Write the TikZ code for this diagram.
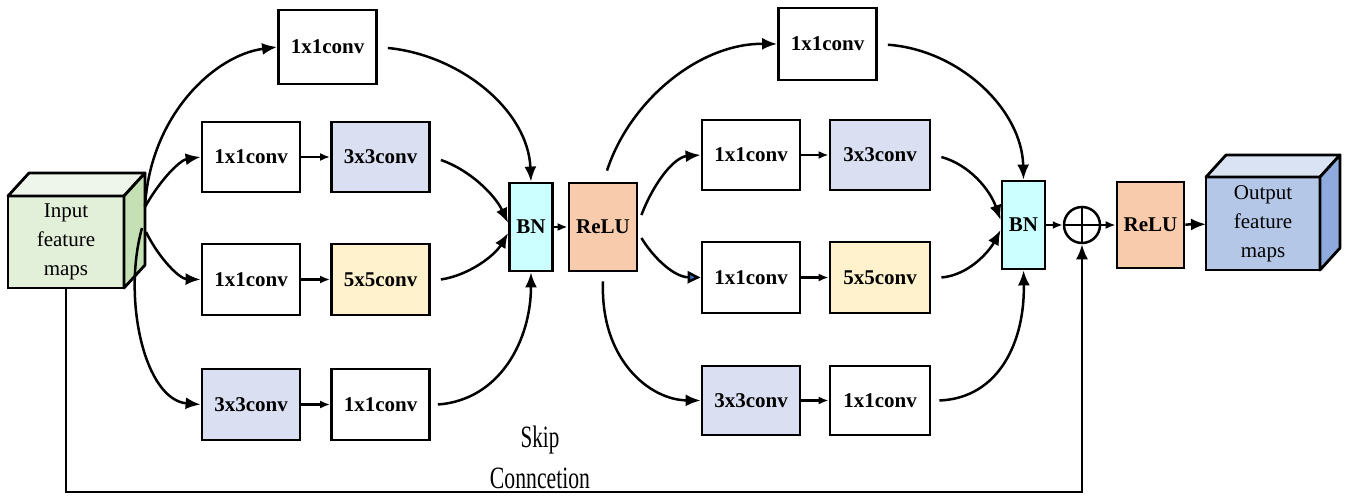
\documentclass[tikz,border=0pt]{standalone}
\usepackage{fontspec}
\setmainfont{Liberation Serif}
\usetikzlibrary{arrows.meta,calc}
\definecolor{cubeF}{HTML}{E2EFD9}
\definecolor{cubeS}{HTML}{C5E0B4}
\definecolor{cubeT}{HTML}{EEF5EA}
\definecolor{outF}{HTML}{B4C7E7}
\definecolor{outS}{HTML}{8FAADC}
\definecolor{outT}{HTML}{DAE3F3}
\definecolor{lav}{HTML}{DAE0F2}
\definecolor{yel}{HTML}{FFF2CC}
\definecolor{bnc}{HTML}{CCFFFF}
\definecolor{reluc}{HTML}{F8CBAD}
\definecolor{tipblue}{HTML}{4472C4}
\tikzset{
  box/.style={draw, line width=2.8pt, minimum width=98pt, minimum height=70pt, inner sep=0pt,
    font=\fontsize{21}{24}\selectfont\bfseries},
  tallbox/.style={draw, line width=2.8pt, minimum width=43pt, minimum height=88pt, inner sep=0pt,
    font=\fontsize{21}{24}\selectfont\bfseries},
  face/.style={draw, line width=2.8pt, inner sep=0pt, outer sep=0pt, align=center,
    font=\fontsize{21}{29}\selectfont},
  arr/.style={line width=2.5pt, -{Latex[length=15pt,width=12pt]}},
  sarr/.style={line width=2.5pt, -{Latex[length=10pt,width=8pt]}},
  barr/.style={line width=2.5pt, -{Triangle[length=13pt,width=12pt,fill=tipblue]}},
  ln/.style={line width=2.5pt},
}
\begin{document}
\begin{tikzpicture}[x=1pt,y=1pt]
\useasboundingbox (0,0) rectangle (1349,-497);
% input cube
\node[face, fill=cubeF, minimum width=116pt, minimum height=92pt] (inp) at (66,-242) {Input\\feature\\maps};
\draw[line width=2.8pt, fill=cubeT, line join=round] (inp.north west) -- ++(21,23) -- ($(inp.north east)+(21,23)$) -- (inp.north east) -- cycle;
\draw[line width=2.8pt, fill=cubeS, line join=round] (inp.north east) -- ++(21,23) -- ($(inp.south east)+(21,23)$) -- (inp.south east) -- cycle;
% output cube
\node[face, fill=outF, minimum width=114pt, minimum height=93pt] (out) at (1263,-223.5) {Output\\feature\\maps};
\draw[line width=2.8pt, fill=outT, line join=round] (out.north west) -- ++(20,22) -- ($(out.north east)+(20,22)$) -- (out.north east) -- cycle;
\draw[line width=2.8pt, fill=outS, line join=round] (out.north east) -- ++(20,22) -- ($(out.south east)+(20,22)$) -- (out.south east) -- cycle;

% left block
\node[box, minimum height=74pt] (top1) at (327.5,-47) {1x1conv};
\node[box] (L21) at (251,-157) {1x1conv};
\node[box, fill=lav] (L22) at (380.5,-157) {3x3conv};
\node[box, minimum height=71pt] (L31) at (251,-279.5) {1x1conv};
\node[box, minimum height=71pt, fill=yel] (L32) at (380.5,-279.5) {5x5conv};
\node[box, minimum height=71pt, fill=lav] (L41) at (251,-404.5) {3x3conv};
\node[box, minimum height=71pt] (L42) at (380.5,-404.5) {1x1conv};
\node[tallbox, fill=bnc] (BN1) at (531,-227) {BN};
\node[tallbox, fill=reluc, minimum width=68pt] (R1) at (603,-227) {ReLU};

% right block
\node[box, minimum height=72pt] (top2) at (827.5,-44) {1x1conv};
\node[box] (R21) at (751,-155) {1x1conv};
\node[box, fill=lav, minimum width=100pt] (R22) at (880,-155) {3x3conv};
\node[box, minimum height=71pt] (R31) at (751,-277.5) {1x1conv};
\node[box, minimum height=71pt, fill=yel, minimum width=100pt] (R32) at (880,-277.5) {5x5conv};
\node[box, minimum height=69pt, fill=lav] (R41) at (751,-400.5) {3x3conv};
\node[box, minimum height=69pt, minimum width=100pt] (R42) at (880,-400.5) {1x1conv};
\node[tallbox, fill=bnc] (BN2) at (1023.5,-225) {BN};
\node[draw, circle, line width=2.5pt, minimum size=36pt, inner sep=0pt] (add) at (1082,-225) {};
\draw[ln] (add.north) -- (add.south) (add.west) -- (add.east);
\node[tallbox, fill=reluc, minimum width=67pt, minimum height=86pt] (R2) at (1150.5,-225) {ReLU};

% skip label
\node (sk1) at (540,-440) {\scalebox{0.68}[1]{\fontsize{31}{31}\selectfont Skip}};
\node (sk2) at (540,-478) {\scalebox{0.7}[1]{\fontsize{31}{31}\selectfont Conncetion}};

% connectors from input cube
\coordinate (s1) at (145,-207);
\coordinate (s2) at (146,-232);
\coordinate (s3) at (142,-228);
\draw[arr] (s1) .. controls (150,-115) and (215,-55) .. (top1.west);
\draw[arr] (s1) .. controls (160,-180) and (180,-160) .. (L21.west);
\draw[arr] (s2) .. controls (160,-260) and (180,-279) .. (L31.west);
\draw[arr] (s3) .. controls (122,-300) and (145,-400) .. (L41.west);

\draw[sarr] (L21) -- (L22);
\draw[sarr] (L31) -- (L32);
\draw[sarr] (L41) -- (L42);

\draw[arr, shorten <=10pt] (top1.east) .. controls (460,-55) and (528,-110) .. (BN1.north);
\draw[arr] ($(L22.east)+(10,-3)$) .. controls (470,-170) and (495,-195) .. ($(BN1.west)+(0,4)$);
\draw[arr] ($(L32.east)+(10,0)$) .. controls (470,-275) and (495,-255) .. ($(BN1.west)+(0,-6)$);
\draw[arr] ($(L42.east)+(7,0)$) .. controls (500,-400) and (531,-340) .. (BN1.south);
\draw[sarr] (BN1) -- (R1);

% from ReLU1
\draw[arr] ($(R1.north)+(4,11)$) .. controls (630,-100) and (700,-43) .. (top2.west);
\draw[arr] ($(R1.east)+(3,12)$) .. controls (655,-180) and (675,-157) .. (R21.west);
\draw[barr] ($(R1.east)+(3,-11)$) .. controls (655,-260) and (675,-277) .. (R31.west);
\draw[arr] ($(R1.south)+(0,-9)$) .. controls (600,-360) and (650,-400) .. (R41.west);

\draw[sarr] (R21) -- (R22);
\draw[sarr] (R31) -- (R32);
\draw[sarr] (R41) -- (R42);

\draw[arr, shorten <=10pt] (top2.east) .. controls (960,-50) and (1022,-110) .. (BN2.north);
\draw[arr] ($(R22.east)+(10,-2)$) .. controls (970,-165) and (990,-190) .. ($(BN2.west)+(0,5)$);
\draw[arr] ($(R32.east)+(10,0)$) .. controls (970,-275) and (990,-250) .. ($(BN2.west)+(0,-5)$);
\draw[arr] ($(R42.east)+(8,0)$) .. controls (1000,-398) and (1025,-340) .. (BN2.south);

\draw[sarr] (BN2) -- (add);
\draw[sarr] (add) -- (R2);
\draw[arr] (R2) -- (out);

% skip connection
\coordinate (k1) at (66,-492);
\coordinate (k2) at (1082,-492);
\draw[arr] (inp.south) -- (k1) -- (k2) -- (add.south);
\end{tikzpicture}
\end{document}
